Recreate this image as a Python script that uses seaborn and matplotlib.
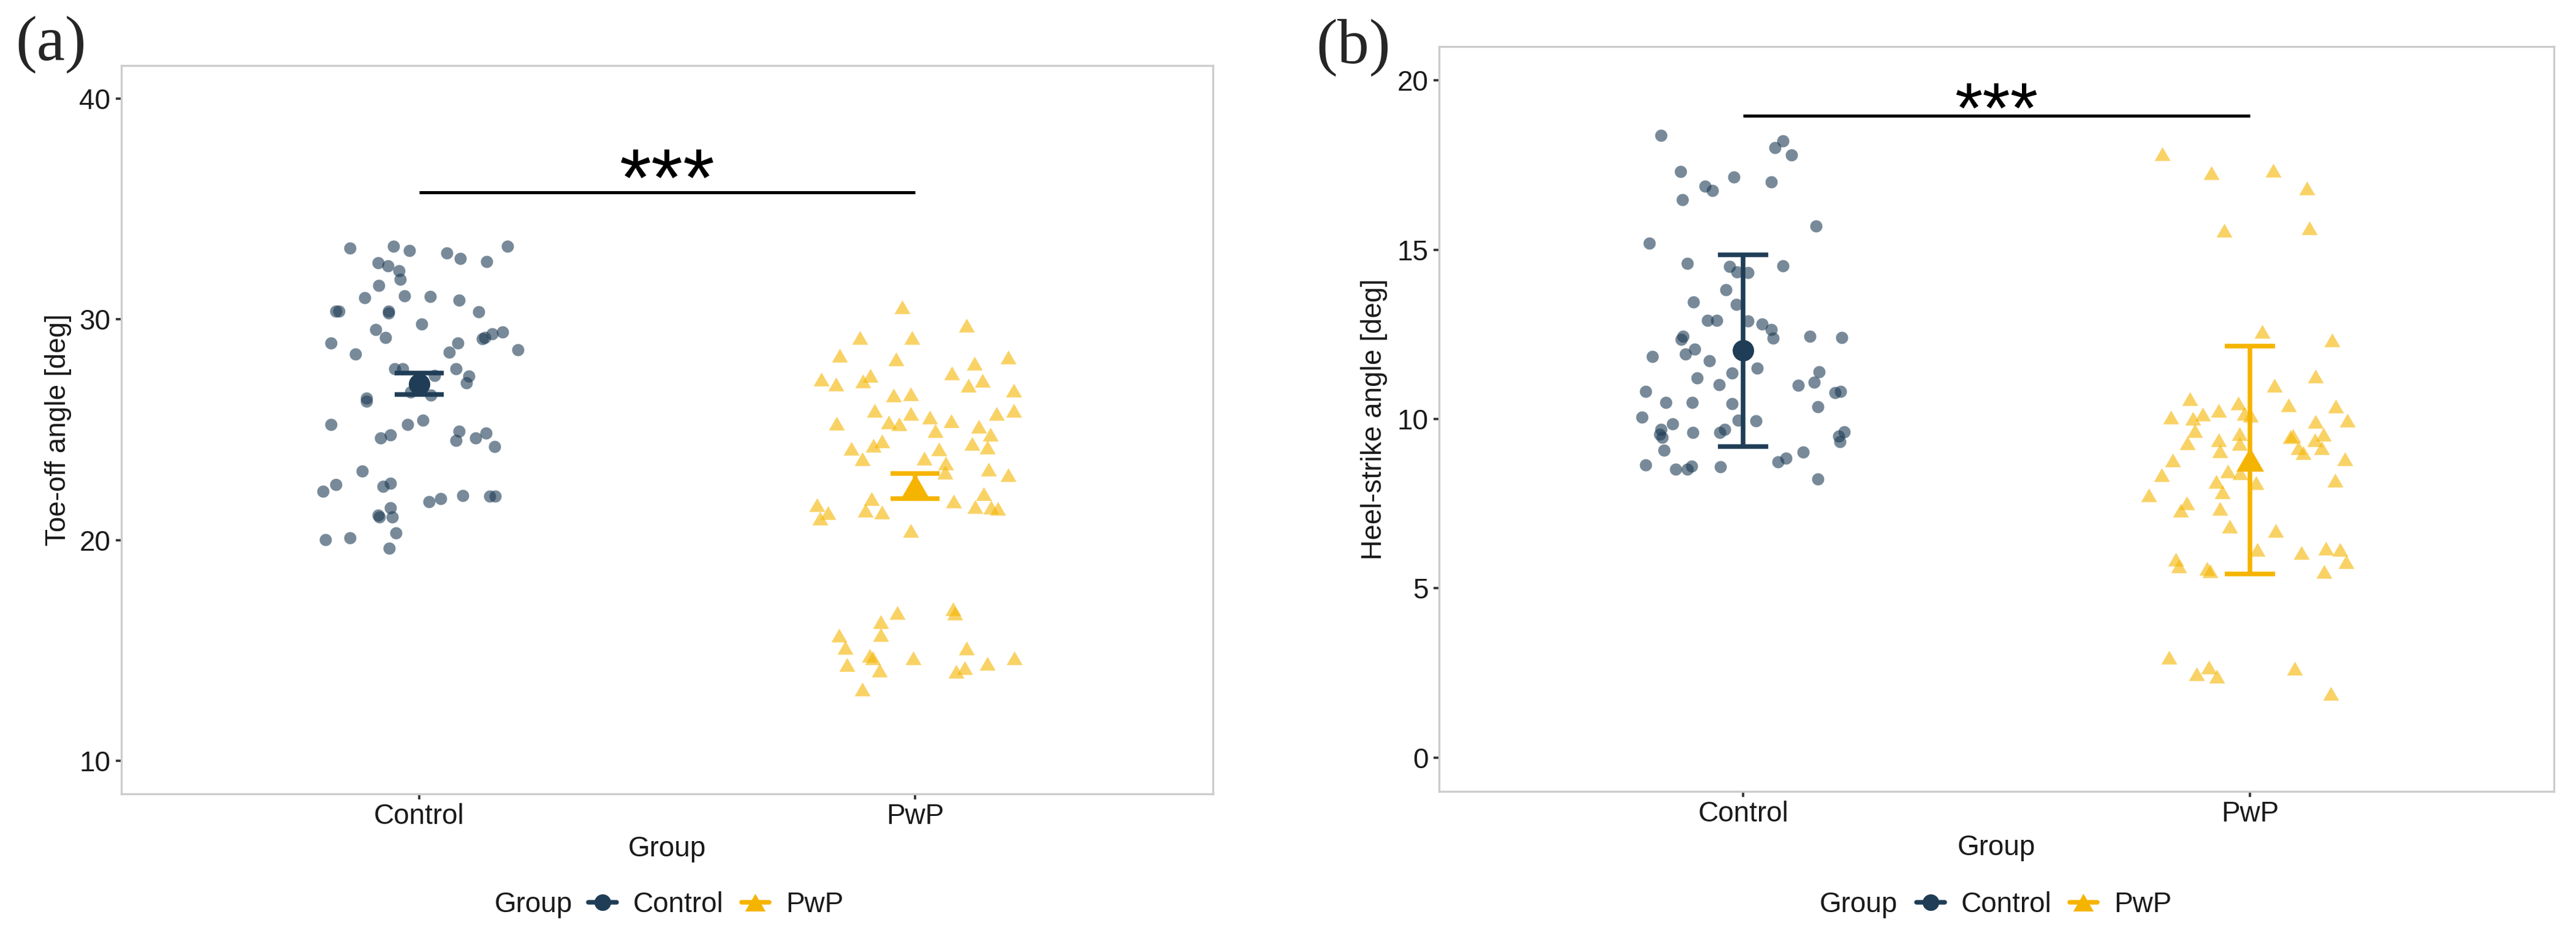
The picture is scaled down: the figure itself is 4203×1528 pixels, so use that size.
import matplotlib.pyplot as plt
import matplotlib.lines as mlines
import numpy as np
import pandas as pd
import seaborn as sns

# ---- data ----
groups = ["Control", "PwP"]

# (a) toe-off angle, individual participants (value, horizontal jitter)
toe_control = [33.23, 33.32, 33.13, 33.02, 32.75, 32.63, 33.32, 32.56, 32.42, 32.21,
               31.81, 31.55, 30.97, 31.06, 31.04, 30.87, 30.35, 30.37, 30.37, 30.37,
               30.30, 29.80, 29.54, 29.17, 28.94, 28.43, 28.94, 28.50, 29.12, 29.17,
               29.35, 29.44, 28.63, 27.75, 27.75, 27.46, 27.77, 27.42, 27.12, 26.71,
               26.57, 26.43, 26.29, 25.23, 25.23, 25.43, 24.63, 24.77, 24.93, 24.51,
               24.63, 24.86, 24.23, 23.13, 22.51, 22.22, 22.42, 22.57, 21.73, 21.87,
               22.03, 21.98, 21.98, 21.45, 21.04, 21.04, 20.32, 20.02, 20.09, 19.62,
               21.13]
toe_control_jitter = [-0.139, -0.051, -0.020, 0.056, 0.083, 0.136, 0.178, -0.083, -0.063, -0.041,
                      -0.038, -0.081, -0.109, -0.029, 0.023, 0.081, 0.120, -0.168, -0.161, -0.061,
                      -0.061, 0.005, -0.087, -0.067, -0.178, -0.128, 0.078, 0.061, 0.128, 0.133,
                      0.147, 0.168, 0.199, -0.049, -0.033, 0.031, 0.075, 0.100, 0.095, -0.017,
                      0.024, -0.106, -0.106, -0.177, -0.023, 0.008, -0.077, -0.058, 0.081, 0.075,
                      0.114, 0.135, 0.152, -0.114, -0.168, -0.194, -0.072, -0.058, 0.020, 0.043,
                      0.088, 0.143, 0.154, -0.058, -0.080, -0.054, -0.047, -0.189, -0.139, -0.060,
                      -0.082]
toe_pwp = [30.56, 29.72, 29.18, 29.17, 28.37, 28.20, 28.30, 28.00, 27.56, 27.28,
           27.08, 27.20, 27.45, 27.23, 27.00, 26.80, 26.57, 26.63, 25.88, 25.74,
           25.57, 25.39, 25.74, 25.88, 25.28, 25.34, 25.25, 24.96, 25.14, 24.79,
           24.14, 24.28, 24.49, 23.68, 24.13, 24.37, 24.22, 23.71, 23.48, 23.06,
           23.20, 22.95, 21.59, 21.25, 20.99, 21.87, 21.36, 21.28, 21.77, 22.11,
           21.51, 21.50, 21.43, 20.44, 16.72, 16.89, 16.70, 16.30, 15.73, 15.69,
           15.13, 14.77, 14.67, 14.37, 14.12, 14.67, 15.11, 14.40, 14.67, 14.21,
           14.06, 13.24]
toe_pwp_jitter = [-0.026, 0.103, -0.111, -0.007, -0.152, -0.039, 0.187, 0.119, 0.074, -0.189,
                  -0.160, -0.105, -0.090, 0.135, 0.107, 0.198, -0.044, -0.009, -0.082, -0.009,
                  0.029, 0.072, 0.164, 0.198, -0.159, -0.054, -0.032, 0.041, 0.128, 0.151,
                  -0.129, -0.084, -0.067, -0.106, 0.048, 0.114, 0.145, 0.018, 0.062, 0.060,
                  0.148, 0.188, -0.198, -0.176, -0.192, -0.088, -0.101, -0.067, 0.077, 0.138,
                  0.121, 0.153, 0.166, -0.009, -0.036, 0.076, 0.080, -0.069, -0.069, -0.154,
                  -0.141, -0.092, -0.086, -0.137, -0.072, -0.004, 0.104, 0.146, 0.200, 0.100,
                  0.083, -0.107]

# (b) heel-strike angle
heel_control = [18.37, 18.22, 18.01, 17.80, 17.31, 17.14, 17.00, 16.87, 16.74, 16.48,
                15.70, 15.20, 14.60, 14.51, 14.35, 14.33, 14.52, 13.81, 13.46, 13.38,
                12.92, 12.92, 12.89, 12.81, 12.65, 12.39, 12.44, 12.41, 12.45, 12.35,
                11.85, 11.92, 12.06, 11.72, 11.22, 11.36, 11.51, 11.01, 11.39, 11.09,
                10.99, 10.82, 10.78, 10.82, 10.49, 10.48, 10.46, 10.37, 10.05, 9.86,
                9.69, 9.54, 9.45, 9.07, 9.60, 9.60, 9.69, 9.96, 9.95, 9.62,
                9.50, 9.33, 8.64, 8.51, 8.52, 8.61, 8.59, 8.73, 8.85, 9.02,
                8.23]
heel_control_jitter = [-0.162, 0.078, 0.063, 0.095, -0.124, -0.018, 0.055, -0.075, -0.061, -0.120,
                       0.144, -0.185, -0.110, -0.027, -0.012, 0.010, 0.078, -0.034, -0.098, -0.013,
                       -0.070, -0.052, 0.010, 0.037, 0.055, 0.059, 0.132, 0.195, -0.119, -0.122,
                       -0.179, -0.114, -0.096, -0.067, -0.091, -0.022, 0.028, -0.047, 0.150, 0.140,
                       0.109, -0.192, 0.181, 0.192, -0.153, -0.101, -0.022, 0.148, -0.200, -0.139,
                       -0.162, -0.164, -0.160, -0.156, -0.099, -0.046, -0.036, -0.010, 0.025, 0.200,
                       0.189, 0.191, -0.192, -0.133, -0.110, -0.102, -0.045, 0.069, 0.085, 0.119,
                       0.148]
heel_pwp = [17.83, 17.27, 17.35, 16.82, 15.57, 15.64, 12.58, 12.33, 11.26, 11.00,
            10.59, 10.47, 10.41, 10.38, 10.25, 10.14, 10.05, 10.02, 10.17, 10.11,
            9.93, 9.96, 9.66, 9.30, 9.39, 9.06, 9.57, 9.27, 9.51, 9.48,
            9.54, 9.39, 9.15, 9.01, 9.15, 8.82, 8.79, 8.35, 8.46, 8.40,
            8.11, 8.16, 7.84, 8.19, 7.76, 7.52, 7.31, 7.36, 6.84, 6.71,
            6.14, 6.05, 6.18, 6.14, 5.78, 5.49, 5.85, 5.65, 5.58, 5.52,
            2.96, 2.48, 2.68, 2.41, 2.64, 1.89]
heel_pwp_jitter = [-0.173, -0.076, 0.046, 0.113, -0.051, 0.117, 0.024, 0.162, 0.129, 0.048,
                   -0.118, -0.023, 0.076, 0.170, -0.061, -0.093, -0.156, -0.112, -0.011, 0.001,
                   0.129, 0.192, -0.109, -0.123, -0.062, -0.059, -0.021, -0.021, 0.085, 0.080,
                   0.145, 0.128, 0.096, 0.105, 0.142, 0.187, -0.152, -0.174, -0.043, -0.019,
                   0.012, -0.066, -0.054, 0.168, -0.199, -0.125, -0.137, -0.059, -0.040, 0.051,
                   0.015, 0.102, 0.150, 0.178, 0.190, 0.146, -0.146, -0.140, -0.085, -0.078,
                   -0.160, -0.105, -0.081, -0.065, 0.088, 0.160]

# group summaries (mean and error bar ends)
toe_mean = [27.08, 22.45]
toe_low = [26.59, 21.87]
toe_high = [27.56, 23.02]
heel_mean = [12.02, 8.80]
heel_low = [9.19, 5.43]
heel_high = [14.85, 12.16]

toe_ticks = [10, 20, 30, 40]
heel_ticks = [0, 5, 10, 15, 20]
toe_bracket = 35.76
heel_bracket = 18.96

# ---- styling ----
sns.set_theme(style="white")
plt.rcParams['font.family'] = ['Liberation Sans', 'DejaVu Sans']

palette = {"Control": "#1f3d56", "PwP": "#f5b400"}
triangle = [(0, 0.866), (-1, -0.866), (1, -0.866)]
markers = {"Control": "o", "PwP": triangle}
point_size = {"Control": 23, "PwP": 39}
mean_size = {"Control": 8.4, "PwP": 10.8}

W, H = 4203, 1528
fig = plt.figure(figsize=(W / 300, H / 300), dpi=300)
ax_a = fig.add_axes([198 / W, 1 - 1296 / H, 1781 / W, 1189 / H])
ax_b = fig.add_axes([2348 / W, 1 - 1292 / H, 1819 / W, 1216 / H])


def make_frame(values, jitters):
    frames = []
    for i, g in enumerate(groups):
        frames.append(pd.DataFrame({
            "Group": g,
            "pos": np.arange(1, 3)[i] + np.asarray(jitters[i]),
            "value": values[i],
        }))
    return pd.concat(frames, ignore_index=True)


def draw_panel(ax, df, means, lows, highs, ticks, ylim, ylabel, bracket, star_size, star_offset, capsize):
    for g in groups:
        sub = df[df["Group"] == g]
        sns.scatterplot(data=sub, x="pos", y="value", ax=ax, color=palette[g],
                        marker=markers[g], s=point_size[g], alpha=0.6,
                        linewidth=0, legend=False)
    for i, g in enumerate(groups):
        ax.errorbar([i + 1], [means[i]],
                    yerr=[[means[i] - lows[i]], [highs[i] - means[i]]],
                    fmt="none", ecolor=palette[g], elinewidth=1.8,
                    capsize=capsize, capthick=1.8, zorder=4)
        ax.plot([i + 1], [means[i]], linestyle="none", marker=markers[g],
                markersize=mean_size[g], color=palette[g], markeredgewidth=0, zorder=5)

    # significance bracket
    ax.plot([1, 2], [bracket, bracket], color="black", linewidth=1.2, solid_capstyle="butt")
    ax.annotate("***", xy=(1.5, bracket), xytext=(0, star_offset), textcoords="offset points",
                ha="center", va="baseline", fontsize=star_size, color="black")

    ax.set_xlim(0.4, 2.6)
    ax.set_ylim(*ylim)
    ax.set_xticks([1, 2])
    ax.set_xticklabels(groups)
    ax.set_yticks(ticks)
    ax.set_xlabel("Group", fontsize=11, color="#1a1a1a")
    ax.set_ylabel(ylabel, fontsize=11, color="#1a1a1a")
    ax.xaxis.label.set_va("center")
    ax.yaxis.label.set_va("center")
    ax.xaxis.set_label_coords(0.5, -0.0757)
    ax.yaxis.set_label_coords(-0.058, 0.5)
    ax.tick_params(bottom=True, left=True, direction="out", length=2.2, width=0.9,
                   color="#333333", labelsize=11, labelcolor="#1a1a1a")
    ax.tick_params(axis="x", pad=1.5)
    ax.tick_params(axis="y", pad=2)
    for sp in ax.spines.values():
        sp.set_visible(True)
        sp.set_color("#cccccc")
        sp.set_linewidth(0.8)
    ax.grid(False)


df_a = make_frame([toe_control, toe_pwp], [toe_control_jitter, toe_pwp_jitter])
df_b = make_frame([heel_control, heel_pwp], [heel_control_jitter, heel_pwp_jitter])

draw_panel(ax_a, df_a, toe_mean, toe_low, toe_high, toe_ticks, (8.5, 41.5),
           "Toe-off angle [deg]", toe_bracket, 32, -5.2, 9.7)
draw_panel(ax_b, df_b, heel_mean, heel_low, heel_high, heel_ticks, (-1, 21),
           "Heel-strike angle [deg]", heel_bracket, 28, -6.7, 9.8)

# panel tags
fig.text(25 / W, 1 - 73 / H, "(a)", ha="left", va="center", fontsize=25,
         family=["Liberation Serif", "DejaVu Serif"])
fig.text(2147 / W, 1 - 78 / H, "(b)", ha="left", va="center", fontsize=25,
         family=["Liberation Serif", "DejaVu Serif"])

# legends below each panel: "Group" title inline with the keys
handles = [
    mlines.Line2D([], [], color=palette["Control"], marker="o", markersize=6.5,
                  linewidth=1.8, markeredgewidth=0),
    mlines.Line2D([], [], color=palette["PwP"], marker=triangle, markersize=8,
                  linewidth=1.8, markeredgewidth=0),
]
for title_x, handle_x in [(807, 960), (2969, 3127)]:
    fig.text(title_x / W, 1 - 1477 / H, "Group", ha="left", va="center",
             fontsize=11, color="#1a1a1a")
    leg = fig.legend(handles, groups, loc="center left",
                     bbox_to_anchor=(handle_x / W, 1 - 1477 / H),
                     ncol=2, frameon=False, borderpad=0, borderaxespad=0,
                     handlelength=1.0, handletextpad=0.59, columnspacing=0.63,
                     fontsize=11)
    for t in leg.get_texts():
        t.set_color("#1a1a1a")

fig.savefig("out.png", dpi=300)
